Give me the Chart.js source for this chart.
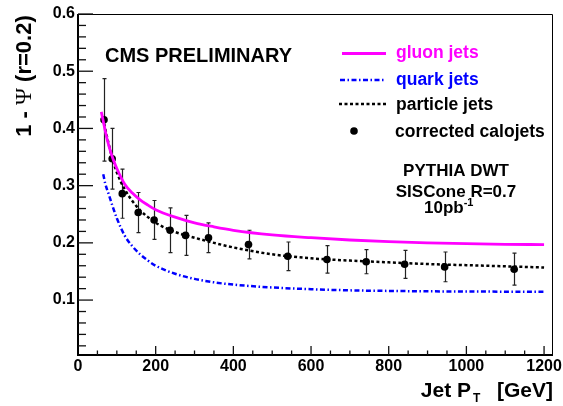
<!DOCTYPE html>
<html>
<head>
<meta charset="utf-8">
<script src="https://cdn.jsdelivr.net/npm/chart.js@4.4.1/dist/chart.umd.min.js"></script>
<style>
    html, body { margin: 0; padding: 0; background: #fff; }
</style>
</head>
<body>
<canvas id="shapeChart" width="563" height="406"></canvas>
<script>
// Jet pT sampling points for the model curves (GeV)
const curvePt = [60, 65, 70, 80, 90, 100, 120, 140, 160, 180, 200, 250, 300, 350, 400, 500, 600, 700, 800, 900, 1000, 1100, 1200];
const gluonJets = [0.429, 0.413, 0.396, 0.368, 0.347, 0.330, 0.303, 0.287, 0.275, 0.266, 0.258, 0.245, 0.235, 0.228, 0.222, 0.214, 0.209, 0.205, 0.202, 0.200, 0.1985, 0.1975, 0.197];
const quarkJets = [null, 0.320, 0.304, 0.283, 0.262, 0.243, 0.213, 0.194, 0.180, 0.169, 0.160, 0.146, 0.137, 0.131, 0.127, 0.122, 0.119, 0.117, 0.116, 0.1153, 0.115, 0.1147, 0.1145];
const particleJets = [null, 0.418, 0.400, 0.370, 0.344, 0.323, 0.294, 0.273, 0.257, 0.245, 0.235, 0.219, 0.209, 0.200, 0.192, 0.180, 0.173, 0.169, 0.166, 0.163, 0.161, 0.159, 0.157];

// Corrected calojets measurement
const caloPt = [67, 88, 114, 155, 196, 237, 277, 336, 439, 540, 641, 742, 841, 944, 1123];
const caloJets = [0.415, 0.347, 0.286, 0.253, 0.240, 0.222, 0.213, 0.209, 0.197, 0.1765, 0.171, 0.167, 0.1625, 0.158, 0.154];
const caloErrors = [0.072, 0.053, 0.043, 0.035, 0.034, 0.039, 0.035, 0.026, 0.025, 0.025, 0.024, 0.021, 0.0245, 0.026, 0.028];

// Axis ticks
const xTicks = [0, 200, 400, 600, 800, 1000, 1200];
const yTicks = [0.1, 0.2, 0.3, 0.4, 0.5, 0.6];

const FONT = '"Liberation Sans", Arial, Helvetica, sans-serif';
const SERIF = '"Liberation Serif", "DejaVu Serif", serif';
const MAGENTA = '#ff00ff';
const BLUE = '#0000ff';
const QUARK_DASH = [5, 2.5, 1.5, 2.5];
const PARTICLE_DASH = [3, 2.5];

function toPoints(xs, ys) {
    return xs.map((x, i) => ({ x: x, y: ys[i] }));
}

/**
 * ROOT-like frame: inward ticks, axis titles, legend and labels
 */
const rootFrame = {
    id: 'rootFrame',
    beforeDatasetsDraw(chart) {
        const ctx = chart.ctx;
        const xs = chart.scales.x;
        const ys = chart.scales.y;
        // error bars for calojets
        ctx.save();
        ctx.strokeStyle = '#222';
        ctx.lineWidth = 1.2;
        caloPt.forEach((pt, i) => {
            const px = Math.round(xs.getPixelForValue(pt)) + 0.5;
            const top = ys.getPixelForValue(caloJets[i] + caloErrors[i]);
            const bot = ys.getPixelForValue(caloJets[i] - caloErrors[i]);
            ctx.beginPath();
            ctx.moveTo(px, top);
            ctx.lineTo(px, bot);
            ctx.moveTo(px - 2, top);
            ctx.lineTo(px + 2, top);
            ctx.moveTo(px - 2, bot);
            ctx.lineTo(px + 2, bot);
            ctx.stroke();
        });
        ctx.restore();
    },
    afterDraw(chart) {
        const ctx = chart.ctx;
        const a = chart.chartArea;
        const xs = chart.scales.x;
        const ys = chart.scales.y;
        ctx.save();

        // frame
        ctx.strokeStyle = '#000';
        ctx.lineWidth = 1;
        ctx.beginPath();
        ctx.moveTo(a.left, a.top + 0.5);
        ctx.lineTo(a.right - 0.5, a.top + 0.5);
        ctx.lineTo(a.right - 0.5, a.bottom);
        ctx.stroke();
        ctx.lineWidth = 2;
        ctx.beginPath();
        ctx.moveTo(a.left, a.top);
        ctx.lineTo(a.left, a.bottom);
        ctx.lineTo(a.right, a.bottom);
        ctx.stroke();

        // x ticks (major every 200, minor every 50)
        ctx.lineWidth = 1.3;
        ctx.strokeStyle = '#111';
        for (let v = 50; v <= xs.max; v += 50) {
            const px = xs.getPixelForValue(v);
            const len = v % 200 === 0 ? 9 : 4.5;
            ctx.beginPath();
            ctx.moveTo(px, a.bottom);
            ctx.lineTo(px, a.bottom - len);
            ctx.stroke();
        }
        // y ticks (major every 0.1, minor every 0.02)
        for (let k = 1; k * 0.02 < ys.max + 1e-9; k++) {
            const py = ys.getPixelForValue(k * 0.02);
            const len = k % 5 === 0 ? 15 : 8;
            ctx.beginPath();
            ctx.moveTo(a.left, py);
            ctx.lineTo(a.left + len, py);
            ctx.stroke();
        }

        // x axis title
        ctx.fillStyle = '#000';
        ctx.textBaseline = 'alphabetic';
        ctx.textAlign = 'right';
        ctx.font = 'bold 21px ' + FONT;
        ctx.fillText('[GeV]', 553, 397);
        ctx.fillText('Jet P', 471, 397);
        ctx.textAlign = 'left';
        ctx.font = 'bold 12px ' + FONT;
        ctx.fillText('T', 473, 402);

        // y axis title, rotated, with a symbol-style Psi
        ctx.save();
        ctx.translate(31, 76);
        ctx.rotate(-Math.PI / 2);
        const partA = '1 - ';
        const partB = '\u03A8';
        const partC = ' (r=0.2)';
        ctx.font = 'bold 22px ' + FONT;
        const wA = ctx.measureText(partA).width;
        const wC = ctx.measureText(partC).width;
        ctx.font = '23px ' + SERIF;
        const wB = ctx.measureText(partB).width;
        let x0 = -(wA + wB + wC) / 2;
        ctx.textAlign = 'left';
        ctx.font = 'bold 22px ' + FONT;
        ctx.fillText(partA, x0, 0);
        ctx.font = '23px ' + SERIF;
        ctx.fillText(partB, x0 + wA, 0);
        ctx.font = 'bold 22px ' + FONT;
        ctx.fillText(partC, x0 + wA + wB, 0);
        ctx.restore();

        // header
        ctx.textAlign = 'left';
        ctx.font = 'bold 20px ' + FONT;
        ctx.fillText('CMS PRELIMINARY', 105, 62);

        // legend
        ctx.lineWidth = 2.8;
        ctx.strokeStyle = MAGENTA;
        ctx.beginPath();
        ctx.moveTo(342, 53.5);
        ctx.lineTo(386, 53.5);
        ctx.stroke();
        ctx.lineWidth = 2.5;
        ctx.strokeStyle = BLUE;
        ctx.setLineDash(QUARK_DASH);
        ctx.beginPath();
        ctx.moveTo(340, 80);
        ctx.lineTo(386, 80);
        ctx.stroke();
        ctx.strokeStyle = '#000';
        ctx.setLineDash(PARTICLE_DASH);
        ctx.beginPath();
        ctx.moveTo(339, 104);
        ctx.lineTo(386, 104);
        ctx.stroke();
        ctx.setLineDash([]);
        ctx.fillStyle = '#000';
        ctx.beginPath();
        ctx.arc(354, 131, 3.8, 0, Math.PI * 2);
        ctx.fill();

        ctx.font = 'bold 17.5px ' + FONT;
        ctx.fillStyle = MAGENTA;
        ctx.fillText('gluon jets', 396, 58);
        ctx.fillStyle = BLUE;
        ctx.fillText('quark jets', 396, 85);
        ctx.fillStyle = '#000';
        ctx.fillText('particle jets', 396, 110);
        ctx.fillText('corrected calojets', 395, 137);

        // generator info
        ctx.textAlign = 'center';
        ctx.font = 'bold 17px ' + FONT;
        ctx.fillText('PYTHIA DWT', 456, 176);
        ctx.fillText('SISCone R=0.7', 456, 197);
        ctx.textAlign = 'left';
        ctx.fillText('10pb', 424, 213);
        const lumW = ctx.measureText('10pb').width;
        ctx.font = 'bold 11px ' + FONT;
        ctx.fillText('-1', 424 + lumW, 206);

        ctx.restore();
    }
};

new Chart(document.getElementById('shapeChart'), {
    type: 'line',
    data: {
        datasets: [{
            label: 'gluon jets',
            data: toPoints(curvePt, gluonJets),
            borderColor: MAGENTA,
            borderWidth: 2.8,
            pointRadius: 0,
            cubicInterpolationMode: 'monotone'
        }, {
            label: 'quark jets',
            data: toPoints(curvePt, quarkJets),
            borderColor: BLUE,
            borderWidth: 2.5,
            borderDash: QUARK_DASH,
            pointRadius: 0,
            cubicInterpolationMode: 'monotone'
        }, {
            label: 'particle jets',
            data: toPoints(curvePt, particleJets),
            borderColor: '#000',
            borderWidth: 2.5,
            borderDash: PARTICLE_DASH,
            pointRadius: 0,
            cubicInterpolationMode: 'monotone'
        }, {
            label: 'corrected calojets',
            data: toPoints(caloPt, caloJets),
            showLine: false,
            pointRadius: 3.8,
            pointBackgroundColor: '#000',
            pointBorderWidth: 0
        }]
    },
    options: {
        responsive: false,
        animation: false,
        layout: {
            padding: { top: 14, right: 10, left: 0, bottom: 0 }
        },
        plugins: {
            legend: { display: false },
            tooltip: { enabled: false }
        },
        scales: {
            x: {
                type: 'linear',
                min: 0,
                max: 1223,
                grid: { display: false, drawTicks: false },
                border: { display: false },
                afterBuildTicks: function(scale) {
                    scale.ticks = xTicks.map(v => ({ value: v }));
                },
                afterFit: function(scale) {
                    scale.height = 51;
                    scale.paddingLeft = 0;
                    scale.paddingRight = 0;
                },
                ticks: {
                    color: '#000',
                    padding: 2,
                    maxRotation: 0,
                    font: { family: FONT, size: 16, weight: 'bold' },
                    callback: v => String(v)
                }
            },
            y: {
                min: 0.004,
                max: 0.6,
                grid: { display: false, drawTicks: false },
                border: { display: false },
                afterBuildTicks: function(scale) {
                    scale.ticks = yTicks.map(v => ({ value: v }));
                },
                afterFit: function(scale) {
                    scale.width = 78;
                },
                ticks: {
                    color: '#000',
                    padding: 3,
                    font: { family: FONT, size: 16, weight: 'bold' },
                    callback: v => v.toFixed(1)
                }
            }
        }
    },
    plugins: [rootFrame]
});
</script>
</body>
</html>
